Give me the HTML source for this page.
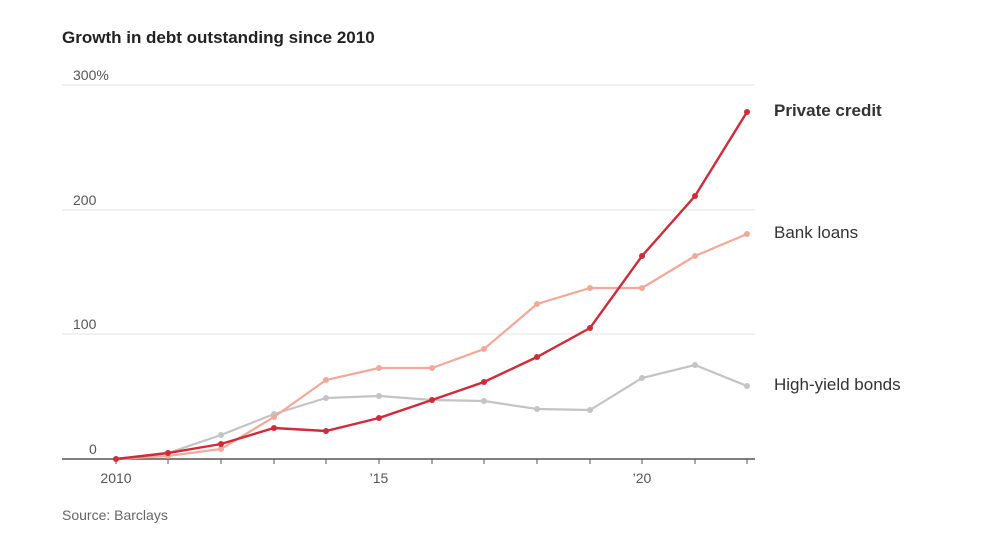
<!DOCTYPE html><html><head><style>body{margin:0;background:#fff;width:988px;height:531px;overflow:hidden}svg{font-family:"Liberation Sans",sans-serif}</style></head><body>
<svg width="988" height="531" xmlns="http://www.w3.org/2000/svg">
<text x="62" y="43" font-size="17" font-weight="bold" fill="#222">Growth in debt outstanding since 2010</text>
<g stroke="#e3e3e3" stroke-width="1"><line x1="62" x2="755" y1="85" y2="85"/><line x1="62" x2="755" y1="210" y2="210"/><line x1="62" x2="755" y1="334" y2="334"/></g>
<g font-size="14" fill="#555"><text x="73" y="80">300%</text><text x="73" y="205">200</text><text x="73" y="329">100</text><text x="89" y="454">0</text>
<text x="116" y="483" text-anchor="middle">2010</text><text x="379" y="483" text-anchor="middle">’15</text><text x="642" y="483" text-anchor="middle">’20</text>
<text x="62" y="520" fill="#666">Source: Barclays</text></g>
<line x1="62" x2="755" y1="459" y2="459" stroke="#555" stroke-width="1.5"/>
<g stroke="#555"><line x1="116" x2="116" y1="459" y2="464"/><line x1="168" x2="168" y1="459" y2="464"/><line x1="221" x2="221" y1="459" y2="464"/><line x1="274" x2="274" y1="459" y2="464"/><line x1="326" x2="326" y1="459" y2="464"/><line x1="379" x2="379" y1="459" y2="464"/><line x1="432" x2="432" y1="459" y2="464"/><line x1="484" x2="484" y1="459" y2="464"/><line x1="537" x2="537" y1="459" y2="464"/><line x1="590" x2="590" y1="459" y2="464"/><line x1="642" x2="642" y1="459" y2="464"/><line x1="695" x2="695" y1="459" y2="464"/><line x1="747" x2="747" y1="459" y2="464"/></g>
<polyline fill="none" stroke="#c4c4c4" stroke-width="2.2" points="116,459 168,453 221,435 274,414 326,398 379,396 432,400 484,401 537,409 590,410 642,378 695,365 747,386"/>
<g fill="#c4c4c4"><circle cx="168" cy="453" r="3"/><circle cx="221" cy="435" r="3"/><circle cx="274" cy="414" r="3"/><circle cx="326" cy="398" r="3"/><circle cx="379" cy="396" r="3"/><circle cx="432" cy="400" r="3"/><circle cx="484" cy="401" r="3"/><circle cx="537" cy="409" r="3"/><circle cx="590" cy="410" r="3"/><circle cx="642" cy="378" r="3"/><circle cx="695" cy="365" r="3"/><circle cx="747" cy="386" r="3"/></g>
<polyline fill="none" stroke="#f2a99a" stroke-width="2.2" points="116,459 168,456 221,449 274,417 326,380 379,368 432,368 484,349 537,304 590,288 642,288 695,256 747,234"/>
<g fill="#f2a99a"><circle cx="168" cy="456" r="3"/><circle cx="221" cy="449" r="3"/><circle cx="274" cy="417" r="3"/><circle cx="326" cy="380" r="3"/><circle cx="379" cy="368" r="3"/><circle cx="432" cy="368" r="3"/><circle cx="484" cy="349" r="3"/><circle cx="537" cy="304" r="3"/><circle cx="590" cy="288" r="3"/><circle cx="642" cy="288" r="3"/><circle cx="695" cy="256" r="3"/><circle cx="747" cy="234" r="3"/></g>
<polyline fill="none" stroke="#cf2b3a" stroke-width="2.4" points="116,459 168,453 221,444 274,428 326,431 379,418 432,400 484,382 537,357 590,328 642,256 695,196 747,112"/>
<g fill="#cf2b3a"><circle cx="116" cy="459" r="3"/><circle cx="168" cy="453" r="3"/><circle cx="221" cy="444" r="3"/><circle cx="274" cy="428" r="3"/><circle cx="326" cy="431" r="3"/><circle cx="379" cy="418" r="3"/><circle cx="432" cy="400" r="3"/><circle cx="484" cy="382" r="3"/><circle cx="537" cy="357" r="3"/><circle cx="590" cy="328" r="3"/><circle cx="642" cy="256" r="3"/><circle cx="695" cy="196" r="3"/><circle cx="747" cy="112" r="3"/></g>
<g font-size="17" fill="#333"><text x="774" y="116" font-weight="bold">Private credit</text><text x="774" y="238">Bank loans</text><text x="774" y="390">High-yield bonds</text></g>
</svg></body></html>
